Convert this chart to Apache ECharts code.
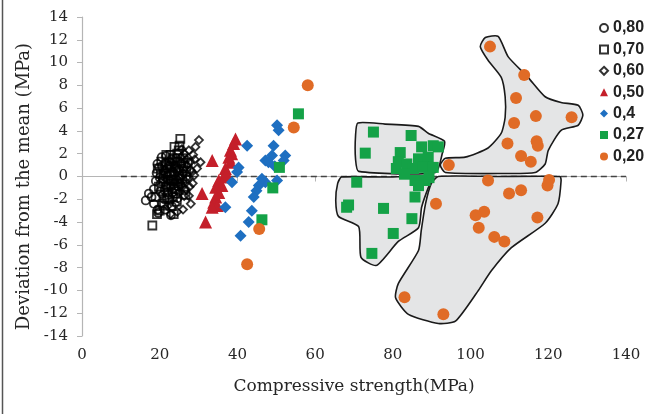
<!DOCTYPE html>
<html><head><meta charset="utf-8">
<script src="https://cdn.jsdelivr.net/npm/echarts@6/dist/echarts.min.js"></script>
<style>html,body{margin:0;padding:0;background:#fff}#c{width:656px;height:414px}</style>
</head><body><div id="c"></div>
<script>
// ---- data ----
const seriesNames = ['0,80','0,70','0,60','0,50','0,4','0,27','0,20'];
const xAxisRange = [0, 140];
const yAxisRange = [-14, 14];
const meanLine = [[10, 0], [140, 0]];

const w080 = [[16.4,-2.1],[17.2,-1.5],[17.9,-1.8],[18.5,-1.1],[18.5,-2.4],[19.0,-0.4],[19.2,0.3],[19.5,-2.9],[19.8,0.8],[20.1,-1.3],[20.5,1.7],[20.8,-0.2],[21.0,0.5],[21.2,-2.0],[21.5,1.2],[21.7,-0.8],[22.0,0.1],[22.2,-1.6],[22.4,0.9],[22.7,-0.4],[23.0,1.5],[23.1,-2.6],[23.4,0.4],[23.7,-1.0],[24.0,1.0],[24.3,-0.3],[24.6,-1.9],[25.0,0.6],[25.3,-0.7],[25.8,0.2],[26.3,-1.2],[26.8,0.0],[19.6,-3.2],[21.4,-2.9],[22.9,-3.4],[20.3,-0.6],[21.9,0.7],[23.3,-1.4],[19.4,1.1],[20.6,0.9],[21.2,-1.2],[22.5,1.3],[23.8,0.2],[24.8,-0.9],[25.5,1.1],[20.0,-0.1],[22.9,-0.9],[24.2,1.6],[21.6,1.8],[22.1,-0.3],[23.5,-0.2],[24.5,0.5],[20.9,0.1],[26.1,0.7],[25.1,-0.2]];
const w070 = [[18.1,-4.3],[18.9,-1.8],[19.3,-3.3],[19.8,-0.9],[20.3,0.2],[20.7,-2.4],[21.1,-2.55],[21.5,-0.9],[21.8,1.0],[22.2,-1.4],[22.6,0.4],[23.0,-0.3],[23.3,1.6],[23.6,-3.3],[23.9,-1.1],[24.2,0.7],[24.5,2.0],[24.9,2.3],[25.1,2.7],[25.3,3.3],[24.7,-0.6],[25.5,1.2],[25.8,-0.2],[26.2,0.9],[26.6,-1.6],[22.4,-2.0],[20.0,-3.0],[21.7,1.9],[23.8,2.6],[19.5,0.7],[22.9,0.9],[24.4,-2.2],[20.9,-0.4],[21.6,0.3],[22.3,-0.7],[23.5,-0.6],[24.1,-1.5],[25.0,0.1],[26.0,1.6],[23.1,0.1],[20.4,1.3],[21.9,-1.9],[22.8,1.9],[24.6,1.3],[23.4,-1.8],[26.8,0.4],[27.2,1.2]];
const w060 = [[20.5,-1.6],[21.3,0.6],[22.0,-2.6],[22.8,-3.3],[23.2,1.2],[23.8,-0.5],[24.1,-2.4],[24.4,0.9],[24.9,-1.4],[25.3,-0.5],[25.5,1.7],[25.8,-0.9],[26.1,0.3],[26.4,2.0],[26.7,-1.1],[27.0,1.0],[27.2,-0.2],[27.5,2.3],[27.5,-1.7],[27.9,0.6],[28.3,0.4],[28.5,-0.6],[29.0,1.5],[29.2,2.6],[29.6,0.7],[30.1,3.2],[30.5,1.25],[28.0,-2.4],[26.0,-2.9],[24.5,-3.1],[26.9,1.5],[27.7,-0.9],[26.5,-0.4],[25.7,2.4],[28.6,1.9],[27.9,1.3],[26.3,-1.7],[28.9,0.1]];
const w050 = [[39.5,3.3],[39.0,2.9],[38.2,2.3],[38.5,2.0],[37.8,1.7],[33.5,1.4],[38.2,1.25],[36.9,0.7],[36.4,-0.05],[35.2,-0.35],[36.0,-0.8],[34.4,-0.95],[35.2,-1.4],[30.9,-1.5],[34.4,-1.8],[33.9,-2.25],[34.8,-2.55],[33.5,-2.7],[31.8,-4.0],[37.3,0.2]];
const w040 = [[50.2,4.5],[50.6,4.05],[42.5,2.7],[49.3,2.7],[48.9,1.85],[47.2,1.4],[52.3,1.85],[48.0,1.25],[51.9,1.4],[40.3,0.8],[39.9,0.4],[50.2,-0.35],[38.6,-0.5],[45.5,-0.8],[47.2,-0.5],[44.9,-1.25],[44.2,-1.8],[36.9,-2.7],[43.7,-3.0],[42.9,-4.0],[40.8,-5.2],[49.6,0.9],[46.3,-0.2]];
const w027 = [[55.7,5.5],[50.8,0.8],[49.1,-1.0],[46.3,-3.8],[75.0,3.9],[84.7,3.6],[72.9,2.05],[81.9,2.1],[87.4,2.6],[90.4,2.7],[91.7,2.6],[86.6,1.55],[89.1,1.7],[81.4,1.3],[83.6,1.1],[80.9,0.7],[85.3,0.7],[87.8,0.8],[90.4,0.8],[70.7,-0.5],[85.7,-0.35],[88.3,-0.35],[86.6,-0.8],[68.6,-2.5],[68.1,-2.7],[77.6,-2.8],[85.7,-1.8],[84.9,-3.7],[80.1,-5.0],[74.6,-6.75],[83.0,0.2],[89.3,-0.1]];
const w020 = [[58.1,8.0],[54.5,4.3],[45.6,-4.6],[42.5,-7.7],[105.0,11.4],[113.8,8.9],[111.7,6.9],[116.8,5.3],[126.0,5.2],[111.2,4.7],[117.0,3.1],[117.3,2.7],[109.5,2.9],[113.0,1.8],[115.5,1.3],[94.4,1.0],[104.5,-0.35],[120.2,-0.3],[119.8,-0.8],[113.0,-1.2],[109.9,-1.5],[91.1,-2.4],[103.5,-3.1],[101.3,-3.4],[117.2,-3.6],[102.1,-4.5],[106.1,-5.3],[108.7,-5.7],[83.0,-10.6],[93.0,-12.1]];

// group outlines (data units)
const outlineGreenUpper = [[71.0,4.7],[78,4.6],[86.6,4.4],[89.1,3.8],[93.3,3.1],[92.7,2.0],[91.0,0.35],[71.2,0.45],[70.4,1.5],[70.4,3.6]];
const outlineGreenLower = [[66.8,-0.05],[78,-0.05],[90.4,-0.05],[89.1,-1.0],[87.4,-2.7],[86.6,-4.5],[81.4,-5.7],[75.8,-7.8],[71.8,-7.1],[71.2,-4.4],[66.0,-3.5],[65.3,-2.1],[65.8,-0.6]];
const outlineOrangeUpper = [[103.8,12.2],[107.1,12.3],[109.7,10.5],[114.8,8.7],[119.2,7.0],[123.3,6.5],[127.7,6.25],[128.9,5.4],[127.7,4.5],[123.3,4.05],[120.0,2.3],[119.2,1.1],[116.6,0.35],[108.9,0.26],[93.5,0.35],[92.2,1.0],[93.5,1.6],[98.6,1.7],[104.5,2.5],[107.9,3.8],[108.9,5.2],[108.9,7.0],[107.9,8.7],[104.5,10.2],[102.5,11.4]];
const outlineOrangeLower = [[91.7,0],[107,0],[123.0,0],[123.3,-0.35],[122.5,-2.4],[119.2,-4.1],[110.5,-6.25],[105.3,-8.3],[102.0,-10.0],[96.1,-12.7],[91.7,-12.9],[84.0,-12.1],[80.7,-10.65],[81.4,-9.4],[86.6,-6.5],[87.3,-4.75],[88.4,-2.4],[89.9,-0.6]];
const outlines = [outlineGreenUpper, outlineGreenLower, outlineOrangeUpper, outlineOrangeLower];

// ---- chart ----
const serifFont = 'DejaVu Serif';
const chart = echarts.init(document.getElementById('c'), null, {renderer:'canvas'});
function hollow(name, data, symbol) {
  return {name, type:'scatter', data, symbol, symbolSize:8, z:4,
    itemStyle:{color:'rgba(0,0,0,0)', borderColor:'#000', borderWidth:1.8}};
}
function filled(name, data, symbol, color, size) {
  return {name, type:'scatter', data, symbol, symbolSize:size, z:5,
    itemStyle:{color, opacity:1}};
}
chart.setOption({
  animation:false,
  backgroundColor:'#fff',
  grid:{left:82, right:30, top:17, bottom:78},
  graphic:[{type:'line', shape:{x1:2.5,y1:0,x2:2.5,y2:414}, style:{stroke:'#555', lineWidth:1.5}}],
  legend:{
    orient:'vertical', left:594, top:15, itemWidth:8, itemHeight:8, itemGap:5.4,
    data:seriesNames,
    textStyle:{fontFamily:'Liberation Sans', fontWeight:'bold', fontSize:16, color:'#222', lineHeight:16}
  },
  xAxis:{
    type:'value', min:xAxisRange[0], max:xAxisRange[1], interval:20,
    splitLine:{show:false},
    axisLine:{lineStyle:{color:'#b5b5b5', width:1.2}},
    axisTick:{show:true, inside:false, length:5, lineStyle:{color:'#b5b5b5'}},
    axisLabel:{fontFamily:serifFont, fontSize:15, color:'#262626', margin:12},
    name:'Compressive strength(MPa)', nameLocation:'middle', nameGap:42,
    nameTextStyle:{fontFamily:serifFont, fontSize:17, color:'#262626'}
  },
  yAxis:{
    type:'value', min:yAxisRange[0], max:yAxisRange[1], interval:2,
    splitLine:{show:false},
    axisLine:{show:true, lineStyle:{color:'#b5b5b5', width:1.2}},
    axisTick:{show:true, inside:false, length:5, lineStyle:{color:'#b5b5b5'}},
    axisLabel:{fontFamily:serifFont, fontSize:15, color:'#262626', margin:14},
    name:'Deviation from the mean (MPa)', nameLocation:'middle', nameGap:44,
    nameTextStyle:{fontFamily:serifFont, fontSize:18, color:'#262626', padding:[0,20,0,0]}
  },
  series:[
    {type:'line', data:meanLine, symbol:'none', silent:true, z:1,
      lineStyle:{color:'#444', width:1.6, type:[6,4]}},
    {type:'custom', silent:true, z:2, data:outlines.map((o,i)=>[i]),
      encode:{x:-1, y:-1},
      renderItem:function(params, api){
        const poly = outlines[params.dataIndex];
        const pts = poly.map(p => api.coord(p));
        return {type:'polygon', shape:{points:pts, smooth:0.2},
          style:{fill:'#e4e5e6', stroke:'#1a1a1a', lineWidth:1.6}};
      }},
    hollow(seriesNames[0], w080, 'circle'),
    hollow(seriesNames[1], w070, 'rect'),
    hollow(seriesNames[2], w060, 'diamond'),
    filled(seriesNames[3], w050, 'triangle', '#c41f2a', 13),
    filled(seriesNames[4], w040, 'diamond', '#1e6fc1', 12),
    filled(seriesNames[5], w027, 'rect', '#14a247', 11),
    filled(seriesNames[6], w020, 'circle', '#e06b26', 12)
  ]
});
</script></body></html>
